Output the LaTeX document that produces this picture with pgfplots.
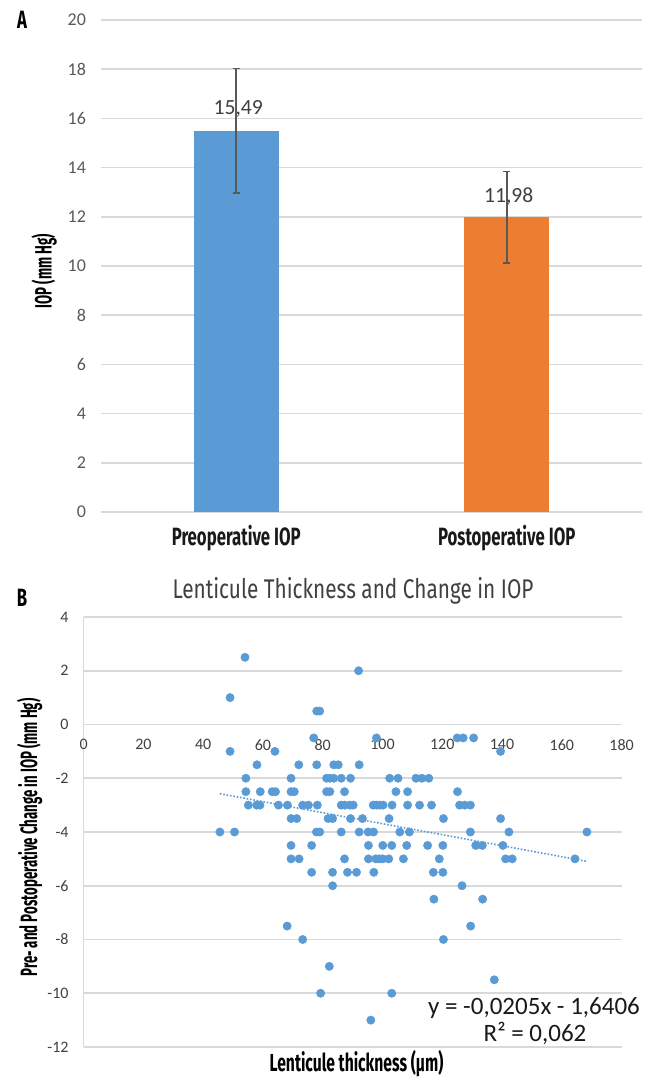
\documentclass[border=0pt]{standalone}
\usepackage{fontspec}
\setmainfont{Carlito}
\newfontfamily\carlito{Carlito}
\newfontfamily\condA[FakeStretch=0.67]{Fira Sans}
\newfontfamily\condX[FakeStretch=0.637]{Fira Sans}
\newfontfamily\condB[FakeStretch=0.56]{Fira Sans}
\newfontfamily\condT[FakeStretch=0.77]{Fira Sans}
\usepackage{pgfplots}
\pgfplotsset{compat=1.18}
\definecolor{barblue}{HTML}{5B9BD5}
\definecolor{barorange}{HTML}{ED7D31}
\definecolor{gridgray}{HTML}{D9D9D9}
\definecolor{ticka}{HTML}{595959}
\definecolor{tickb}{HTML}{404040}
\definecolor{errgray}{HTML}{595959}

\pgfplotstableread{
x y
54 2.5
92 2
49 1
78 0.5
79 0.5
77 -0.5
98 -0.5
125 -0.5
127 -0.5
130.5 -0.5
49 -1
64 -1
139.5 -1
58 -1.5
72 -1.5
78 -1.5
83.7 -1.5
85.2 -1.5
92.2 -1.5
54.3 -2
69.4 -2
81.3 -2
82.4 -2
83.7 -2
86.2 -2
89.3 -2
102.4 -2
105.2 -2
111.2 -2
113.2 -2
115.5 -2
54.3 -2.5
59.1 -2.5
63.1 -2.5
64.2 -2.5
69.4 -2.5
70.5 -2.5
81.3 -2.5
82.4 -2.5
87.3 -2.5
104.5 -2.5
108.4 -2.5
125.1 -2.5
55.1 -3
57.9 -3
59 -3
65.2 -3
68.2 -3
73.3 -3
75.2 -3
78.2 -3
86.2 -3
87.4 -3
89.1 -3
90.2 -3
96.9 -3
98 -3
99.1 -3
100.2 -3
103.2 -3
108.4 -3
112.4 -3
116.4 -3
125.8 -3
127.5 -3
129.4 -3
69.4 -3.5
71.3 -3.5
81.8 -3.5
83.3 -3.5
89.3 -3.5
93.3 -3.5
102.2 -3.5
120.4 -3.5
139.5 -3.5
45.6 -4
50.5 -4
77.9 -4
79 -4
86.2 -4
92.2 -4
95.2 -4
97 -4
105.8 -4
109 -4
129.4 -4
142.3 -4
168.4 -4
69.4 -4.5
76.3 -4.5
95.3 -4.5
100.1 -4.5
103.1 -4.5
108.1 -4.5
115.1 -4.5
120.2 -4.5
131.2 -4.5
133.4 -4.5
140.3 -4.5
69.4 -5
72.1 -5
87.3 -5
95.3 -5
97.8 -5
98.9 -5
100.1 -5
102.1 -5
107 -5
119 -5
141.2 -5
143.4 -5
164.4 -5
76.3 -5.5
83.3 -5.5
88.3 -5.5
91.3 -5.5
97.1 -5.5
117 -5.5
120.2 -5.5
83.3 -6
126.6 -6
117.2 -6.5
133.5 -6.5
68.1 -7.5
129.5 -7.5
73.3 -8
120.4 -8
82.2 -9
137.4 -9.5
79.3 -10
103.1 -10
96.1 -11
}\scatterdata

\begin{document}
\begin{tikzpicture}
\path[use as bounding box] (0,0) rectangle (322pt,538.5pt);
% ---------------- Panel A ----------------
\begin{axis}[
  at={(50.5pt,282.5pt)}, anchor=south west,
  scale only axis, width=270.5pt, height=246pt,
  xmin=-0.5, xmax=1.5, ymin=0, ymax=20,
  xtick={0,1}, xticklabels={Preoperative IOP, Postoperative IOP},
  ytick={0,2,...,20},
  ymajorgrids, grid style={draw=gridgray, line width=0.8pt},
  axis line style={draw=none},
  major tick length=0pt,
  /pgf/number format/assume math mode=true,
  yticklabel style={font=\carlito\fontsize{9}{10}\selectfont, text=ticka, xshift=-4pt},
  xticklabel style={font=\condA\bfseries\fontsize{12.5}{14}\selectfont, text=black!90, yshift=-3pt},
  ybar, bar width=42.5pt,
  clip=false,
]
\addplot[ybar, bar shift=0pt, fill=barblue, draw=none,
  nodes near coords={15{,}49},
  every node near coord/.append style={font=\carlito\fontsize{10.8}{12}\selectfont, text=tickb, anchor=base, yshift=8pt, xshift=1pt},
  error bars/.cd, y dir=both, y explicit,
  error bar style={draw=errgray, line width=0.75pt},
  error mark options={rotate=90, mark size=1.8pt, line width=0.75pt, draw=errgray}]
  coordinates {(0,15.49) +- (0,2.53)};
\addplot[ybar, bar shift=0pt, fill=barorange, draw=none,
  nodes near coords={11{,}98},
  every node near coord/.append style={font=\carlito\fontsize{10.8}{12}\selectfont, text=tickb, anchor=base, yshift=7.5pt, xshift=1pt},
  error bars/.cd, y dir=both, y explicit,
  error bar style={draw=errgray, line width=0.75pt},
  error mark options={rotate=90, mark size=1.8pt, line width=0.75pt, draw=errgray}]
  coordinates {(1,11.98) +- (0,1.86)};
\end{axis}
% ---------------- Panel B ----------------
\begin{axis}[
  at={(41.8pt,15pt)}, anchor=south west,
  scale only axis, width=269pt, height=215pt,
  xmin=0, xmax=180, ymin=-12, ymax=4,
  xtick={0,20,...,180}, ytick={-12,-10,...,4},
  axis x line=middle, axis y line=left,
  axis line style={-, draw=gridgray, line width=0.8pt},
  ymajorgrids, grid style={draw=gridgray, line width=0.8pt},
  major tick length=0pt,
  hide obscured x ticks=false, hide obscured y ticks=false,
  /pgf/number format/assume math mode=true,
  xticklabel style={font=\carlito\fontsize{8}{9}\selectfont, text=tickb, yshift=-4pt},
  yticklabel style={font=\carlito\fontsize{8}{9}\selectfont, text=tickb, xshift=-4pt},
  clip=false,
]
\addplot[only marks, color=barblue, mark=*, mark size=2.1pt, mark options={fill=barblue, draw=barblue, line width=0.2pt, solid}] table[x=x, y=y] {\scatterdata};
\addplot[barblue, line width=0.8pt, dash pattern=on 0.8pt off 0.9pt] coordinates {(45.6,-2.5754) (168.4,-5.0928)};
\end{axis}
% ---------------- Texts ----------------
\node[font=\condA\bfseries\fontsize{12.5}{14}\selectfont, anchor=base] at (11pt,524pt) {A};
\node[font=\condA\bfseries\fontsize{12.5}{14}\selectfont, anchor=base] at (11pt,235pt) {B};
\node[rotate=90, font=\condB\bfseries\fontsize{11.8}{13}\selectfont] at (22pt,403pt) {IOP (mm Hg)};
\node[rotate=90, font=\condB\bfseries\fontsize{11.8}{13}\selectfont] at (14.75pt,119.75pt) {Pre- and Postoperative Change in IOP (mm Hg)};
\node[font=\condT\fontsize{13.5}{15}\selectfont, text=tickb, anchor=base] at (176.5pt,239pt) {Lenticule Thickness and Change in IOP};
\node[font=\condX\bfseries\fontsize{12.3}{14}\selectfont, anchor=base] at (178.25pt,2.5pt) {Lenticule thickness (µm)};
\node[font=\carlito\fontsize{12.5}{14}\selectfont, text=black!90, anchor=base] at (267pt,31pt) {y = -0,0205x - 1,6406};
\node[font=\carlito\fontsize{12.5}{14}\selectfont, text=black!90, anchor=base] at (267.5pt,17.5pt) {R² = 0,062};
\end{tikzpicture}
\end{document}
